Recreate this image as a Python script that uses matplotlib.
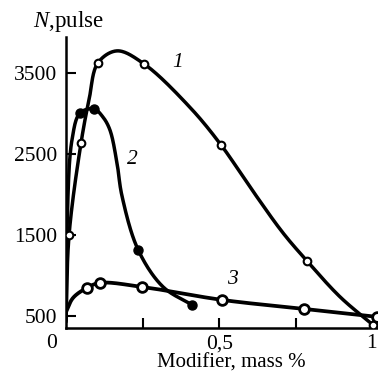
import numpy as np
import matplotlib
matplotlib.use("Agg")
import matplotlib.pyplot as plt

plt.rcParams['font.family'] = ['Liberation Serif', 'DejaVu Serif']
plt.rcParams['mathtext.fontset'] = 'custom'
plt.rcParams['mathtext.rm'] = 'Liberation Serif'
plt.rcParams['mathtext.it'] = 'Liberation Serif:italic'

# curve 1 (open circles): line trace and measured points
c1_x = [0.0, 0.010, 0.049, 0.075, 0.104, 0.166, 0.254, 0.404, 0.505, 0.606, 0.707, 0.785, 0.893, 1.0]
c1_y = [430, 1503, 2638, 3168, 3624, 3772, 3612, 3075, 2612, 2058, 1527, 1182, 738, 393]
m1_x = [0.010, 0.049, 0.104, 0.254, 0.505, 0.785, 1.0]
m1_y = [1503, 2638, 3624, 3612, 2612, 1182, 393]

# curve 2 (filled circles)
c2_x = [0.0, 0.003, 0.0195, 0.046, 0.091, 0.120, 0.143, 0.166, 0.182, 0.235, 0.316, 0.41]
c2_y = [450, 1504, 2675, 3007, 3057, 2958, 2798, 2392, 1990, 1319, 863, 641]
m2_x = [0.046, 0.091, 0.235, 0.41]
m2_y = [3007, 3057, 1319, 641]

# curve 3 (open circles, large)
c3_x = [0.0, 0.023, 0.068, 0.111, 0.248, 0.508, 0.775, 1.013]
c3_y = [553, 727, 850, 912, 862, 702, 591, 493]
m3_x = [0.068, 0.111, 0.248, 0.508, 0.775, 1.013]
m3_y = [850, 912, 862, 702, 591, 493]

ytick_vals = [500, 1500, 2500, 3500]
xtick_vals = [0.25, 0.5, 0.75]
xtick_labels = ['', '0,5', '']

SX, SY = 307.0, 0.0811   # rough px per data unit, only for even smoothing


def smooth(xs, ys, n=30):
    # centripetal catmull-rom through the traced points
    p = np.column_stack([np.asarray(xs) * SX, np.asarray(ys) * SY])
    p = np.vstack([2 * p[0] - p[1], p, 2 * p[-1] - p[-2]])
    out = []
    for i in range(1, len(p) - 2):
        p0, p1, p2, p3 = p[i - 1], p[i], p[i + 1], p[i + 2]
        t0 = 0.0
        t1 = t0 + np.linalg.norm(p1 - p0) ** 0.5
        t2 = t1 + np.linalg.norm(p2 - p1) ** 0.5
        t3 = t2 + np.linalg.norm(p3 - p2) ** 0.5
        t = np.linspace(t1, t2, n)[:, None]
        a1 = (t1 - t) / (t1 - t0) * p0 + (t - t0) / (t1 - t0) * p1
        a2 = (t2 - t) / (t2 - t1) * p1 + (t - t1) / (t2 - t1) * p2
        a3 = (t3 - t) / (t3 - t2) * p2 + (t - t2) / (t3 - t2) * p3
        b1 = (t2 - t) / (t2 - t0) * a1 + (t - t0) / (t2 - t0) * a2
        b2 = (t3 - t) / (t3 - t1) * a2 + (t - t1) / (t3 - t1) * a3
        c = (t2 - t) / (t2 - t1) * b1 + (t - t1) / (t2 - t1) * b2
        out.append(c if i == 1 else c[1:])
    out = np.vstack(out)
    return out[:, 0] / SX, out[:, 1] / SY


fig = plt.figure(figsize=(3.78, 3.76), dpi=100)
ax = fig.add_axes([0.1746, 0.128, 0.8254, 0.774])

x, y = smooth(c1_x, c1_y)
ax.plot(x, y, color='black', lw=2.5, solid_capstyle='round', zorder=2)
ax.plot(m1_x, m1_y, 'o', ms=5.5, mfc='white', mec='black', mew=1.5, zorder=4)

x, y = smooth(c2_x, c2_y)
ax.plot(x, y, color='black', lw=2.5, solid_capstyle='round', zorder=2)
ax.plot(m2_x, m2_y, 'o', ms=6.5, mfc='black', mec='black', zorder=4)

x, y = smooth(c3_x, c3_y)
ax.plot(x, y, color='black', lw=2.7, solid_capstyle='round', zorder=3)
ax.plot(m3_x, m3_y, 'o', ms=7, mfc='white', mec='black', mew=2, zorder=4, clip_on=False)

ax.set_xlim(0, 1.0163)
ax.set_ylim(357, 3945)
for s in ['top', 'right']:
    ax.spines[s].set_visible(False)
for s in ['left', 'bottom']:
    ax.spines[s].set_linewidth(1.8)

ax.set_yticks(ytick_vals)
ax.set_yticklabels([str(v) for v in ytick_vals])
ax.set_xticks(xtick_vals)
ax.set_xticklabels(xtick_labels)
ax.tick_params(direction='in', length=7, width=1.5, labelsize=15.5)
ax.tick_params(axis='x', pad=4.5)
ax.tick_params(axis='y', pad=6.5)

fig.text(52 / 378, 1 - 344 / 376, '0', fontsize=15.5, ha='center', va='center')
fig.text(371 / 378, 1 - 343 / 376, '1', fontsize=15.5, ha='center', va='center')
fig.text(231 / 378, 1 - 363 / 376, 'Modifier, mass %', fontsize=15, ha='center', va='center')
fig.text(68 / 378, 1 - 22 / 376, r'$N$,pulse', fontsize=16.5, ha='center', va='center')

ax.text(0.365, 3625, '1', fontsize=15.5, style='italic', ha='center', va='center')
ax.text(0.215, 2428, '2', fontsize=15.5, style='italic', ha='center', va='center')
ax.text(0.541, 949, '3', fontsize=15.5, style='italic', ha='center', va='center')

fig.savefig('out.png', dpi=100)
